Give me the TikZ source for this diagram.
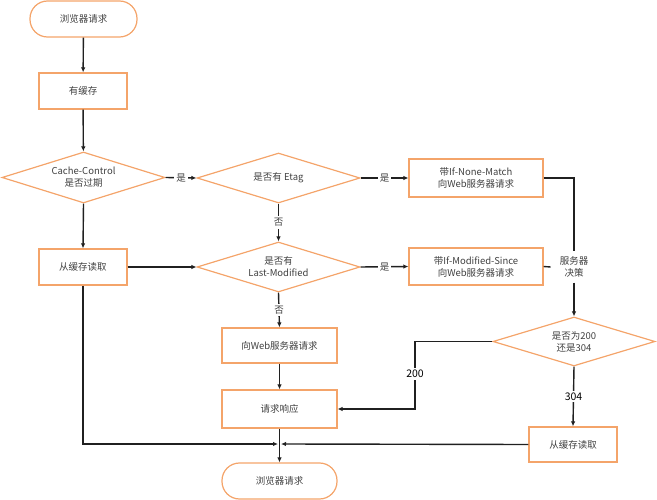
\documentclass[tikz,border=0pt]{standalone}
\usepackage{fontspec}
\setmainfont{Noto Sans CJK SC}
\usetikzlibrary{shapes.geometric,arrows.meta}
\definecolor{orng}{HTML}{F4A46A}
\definecolor{txt}{HTML}{404040}
\definecolor{ln}{HTML}{202020}
\tikzset{
  base/.style={draw=orng, line width=1.2pt, text=txt, font=\fontsize{9.5}{12}\selectfont, align=center, inner sep=0pt},
  boxn/.style={base, rectangle},
  term/.style={base, rectangle, rounded corners=17.5pt},
  dia/.style={base, diamond, aspect=3.2},
  conn/.style={draw=ln, line width=1.4pt},
  arr/.style={conn, -{Latex[length=5pt,width=4.5pt]}},
  lbl/.style={fill=white, text=txt, font=\fontsize{9.5}{12}\selectfont, inner sep=2pt, align=center},
  numl/.style={fill=white, text=black, font=\fontsize{10.5}{12}\selectfont, inner sep=2pt}
}
\begin{document}
\begin{tikzpicture}[x=1pt,y=-1pt]
\useasboundingbox (0,0) rectangle (657,500);
% nodes
\node[term, minimum width=107pt, minimum height=36pt] (t1) at (83.5,19) {浏览器请求};
\node[boxn, minimum width=88pt, minimum height=36pt] (c1) at (83,91) {有缓存};
\node[dia, minimum width=163pt, minimum height=51pt] (d1) at (83.5,177.5) {Cache-Control\\是否过期};
\node[dia, minimum width=163pt, minimum height=50pt] (d2) at (278.5,178) {是否有 Etag};
\node[dia, minimum width=163pt, minimum height=50pt] (d3) at (278.5,267) {是否有\\Last-Modified};
\node[boxn, minimum width=134pt, minimum height=38pt] (b1) at (476,178) {带If-None-Match\\向Web服务器请求};
\node[boxn, minimum width=134pt, minimum height=37pt] (b2) at (476,266.5) {带If-Modified-Since\\向Web服务器请求};
\node[boxn, minimum width=88pt, minimum height=36pt] (r1) at (83,267) {从缓存读取};
\node[dia, minimum width=162pt, minimum height=49pt] (d4) at (574,341.5) {是否为200\\还是304};
\node[boxn, minimum width=115pt, minimum height=35pt] (w1) at (279.5,345.5) {向Web服务器请求};
\node[boxn, minimum width=115pt, minimum height=38pt] (q1) at (279.5,409) {请求响应};
\node[term, minimum width=115pt, minimum height=36pt] (t2) at (279.5,481) {浏览器请求};
\node[boxn, minimum width=88pt, minimum height=35pt] (r2) at (573,444.5) {从缓存读取};
\node[lbl, inner sep=5pt] (sv) at (574,267) {服务器\\决策};
\coordinate (m200) at (415,374);
\coordinate (j) at (279.5,444);
% connectors
\draw[arr] (t1) -- (c1);
\draw[arr] (c1) -- (d1);
\draw[arr] (d1.east) -- node[lbl] (y1) {是} (d2.west);
\draw[arr] (d2.east) -- node[lbl] (y2) {是} (b1.west);
\draw[arr] (d2.south) -- node[lbl] (n1) {否} (d3.north);
\draw[arr] (d1.south) -- (r1.north);
\draw[arr] (r1.east) -- (d3.west);
\draw[arr] (d3.east) -- node[lbl] (y3) {是} (b2.west);
\draw[arr] (d3.south) -- node[lbl] (n2) {否} (w1.north);
\draw[conn] (b1.east) -| (sv.north);
\draw[conn] (b2.east) -- ([xshift=-4pt]sv.west);
\draw[arr] (sv.south) -- (d4.north);
\draw[conn] (d4.west) -| (m200);
\draw[arr] (m200) |- (q1.east);
\node[numl] (l200) at (m200) {200};
\draw[arr] (d4.south) -- node[numl] (l304) {304} (r2.north);
\draw[arr] (w1) -- (q1);
\draw[arr] (q1) -- (t2);
\draw[arr] (r1.south) |- ([xshift=-1.5pt]j);
\draw[arr] (r2.west) -- ([xshift=1.5pt]j);
\end{tikzpicture}
\end{document}
